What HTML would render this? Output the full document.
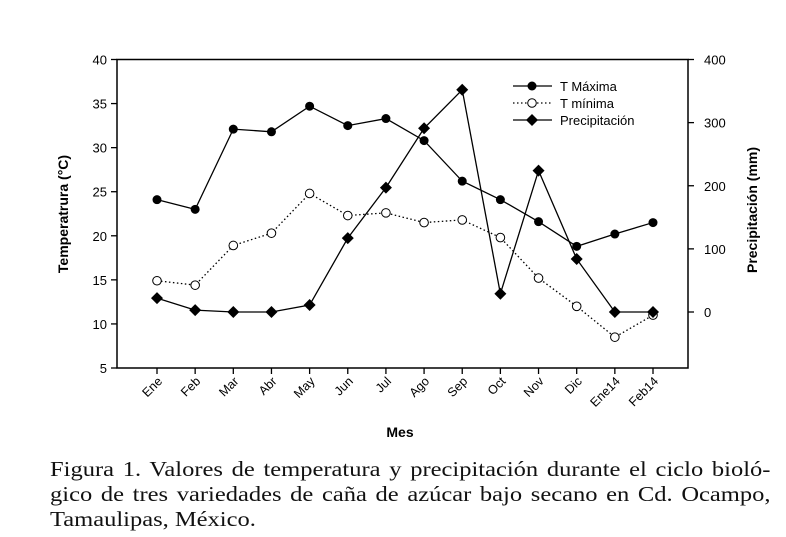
<!DOCTYPE html>
<html><head><meta charset="utf-8"><style>
body{margin:0;background:#fff;width:786px;height:537px;overflow:hidden}
svg text{font-family:"Liberation Sans",Arial,sans-serif}
.cap{position:absolute;left:50px;width:632px;font-family:"Liberation Serif",serif;font-size:21.5px;line-height:25px;color:#111;white-space:nowrap;transform:scaleX(1.14);transform-origin:0 0}
.j{text-align:justify;text-align-last:justify}
</style></head><body>
<svg id="chart" width="786" height="537" style="position:absolute;left:0;top:0"></svg>
<div>
<div class="cap j" style="top:457px">Figura 1. Valores de temperatura y precipitación durante el ciclo bioló-</div>
<div class="cap j" style="top:482px">gico de tres variedades de caña de azúcar bajo secano en Cd. Ocampo,</div>
<div class="cap" style="top:507px">Tamaulipas, México.</div>
</div>
<script>
const months=["Ene","Feb","Mar","Abr","May","Jun","Jul","Ago","Sep","Oct","Nov","Dic","Ene14","Feb14"];
const tMax=[24.1,23,32.1,31.8,34.7,32.5,33.3,30.8,26.2,24.1,21.6,18.8,20.2,21.5];
const tMin=[14.9,14.4,18.9,20.3,24.8,22.3,22.6,21.5,21.8,19.8,15.2,12,8.5,11];
const precip=[22,3,0,0,11,117,197,291,352,29,224,84,0,0];
const leftTicks=[5,10,15,20,25,30,35,40];
const rightTicks=[0,100,200,300,400];

const NS="http://www.w3.org/2000/svg";
const svg=document.getElementById("chart");
const L=117,R=688,T=59.5,B=368;
const x=i=>157+i*(653-157)/13;
const yL=v=>B-(v-5)/35*(B-T);
const yR=v=>312-v*(312-T)/400;
function mk(tag,a,parent){const e=document.createElementNS(NS,tag);for(const k in a)e.setAttribute(k,a[k]);(parent||svg).appendChild(e);return e;}

const frame=mk("rect",{x:L,y:T,width:R-L,height:B-T,fill:"none",stroke:"#000","stroke-width":1.5});



leftTicks.forEach(v=>{
  mk("line",{x1:L-6,x2:L,y1:yL(v),y2:yL(v),stroke:"#000","stroke-width":1.3});
  const t=mk("text",{x:L-10,y:yL(v)+5,"text-anchor":"end","font-size":13});t.textContent=v;
  
  
});
rightTicks.forEach(v=>{
  mk("line",{x1:R,x2:R+6,y1:yR(v),y2:yR(v),stroke:"#000","stroke-width":1.3});
  const t=mk("text",{x:R+16,y:yR(v)+5,"text-anchor":"start","font-size":13});t.textContent=v;
  
  
});
months.forEach((m,i)=>{
  mk("line",{x1:x(i),x2:x(i),y1:B,y2:B+6,stroke:"#000","stroke-width":1.3});
  const t=mk("text",{x:x(i)+6,y:B+14,"text-anchor":"end","font-size":12.5,transform:`rotate(-45 ${x(i)+6} ${B+14})`});t.textContent=m;
  
  
});
let t=mk("text",{x:400,y:437,"text-anchor":"middle","font-size":14,"font-weight":"bold"});t.textContent="Mes";


t=mk("text",{x:68,y:214,"text-anchor":"middle","font-size":14,"font-weight":"bold",transform:"rotate(-90 68 214)"});t.textContent="Temperatrura (°C)";


t=mk("text",{x:757,y:210,"text-anchor":"middle","font-size":14,"font-weight":"bold",transform:"rotate(-90 757 210)"});t.textContent="Precipitación (mm)";



function series(vals,yf,name,dash,marker){
  const p=mk("polyline",{points:vals.map((v,i)=>x(i)+","+yf(v)).join(" "),fill:"none",stroke:"#000","stroke-width":1.3,"stroke-dasharray":dash||""});
  
  
  vals.forEach((v,i)=>{const m=marker(x(i),yf(v));
    
    });
}
const dot=(cx,cy)=>mk("circle",{cx,cy,r:4.5,fill:"#000"});
const ring=(cx,cy)=>mk("circle",{cx,cy,r:4.3,fill:"#fff",stroke:"#000","stroke-width":1});
const dia=(cx,cy)=>mk("polygon",{points:`${cx},${cy-6} ${cx+6},${cy} ${cx},${cy+6} ${cx-6},${cy}`,fill:"#000"});
series(tMin,yL,"t-minima","1.5 2.5",ring);
series(precip,yR,"precipitacion","",dia);
series(tMax,yL,"t-maxima","",dot);

const leg=[["T Máxima","",dot],["T mínima","1.5 2.5",ring],["Precipitación","",dia]];
leg.forEach((l,i)=>{const y=86+i*17;
  mk("line",{x1:513,x2:552,y1:y,y2:y,stroke:"#000","stroke-width":1.3,"stroke-dasharray":l[1]});
  l[2](532,y);
  const tx=mk("text",{x:560,y:y+5,"font-size":13});tx.textContent=l[0];
  
  
});
</script>
</body></html>
